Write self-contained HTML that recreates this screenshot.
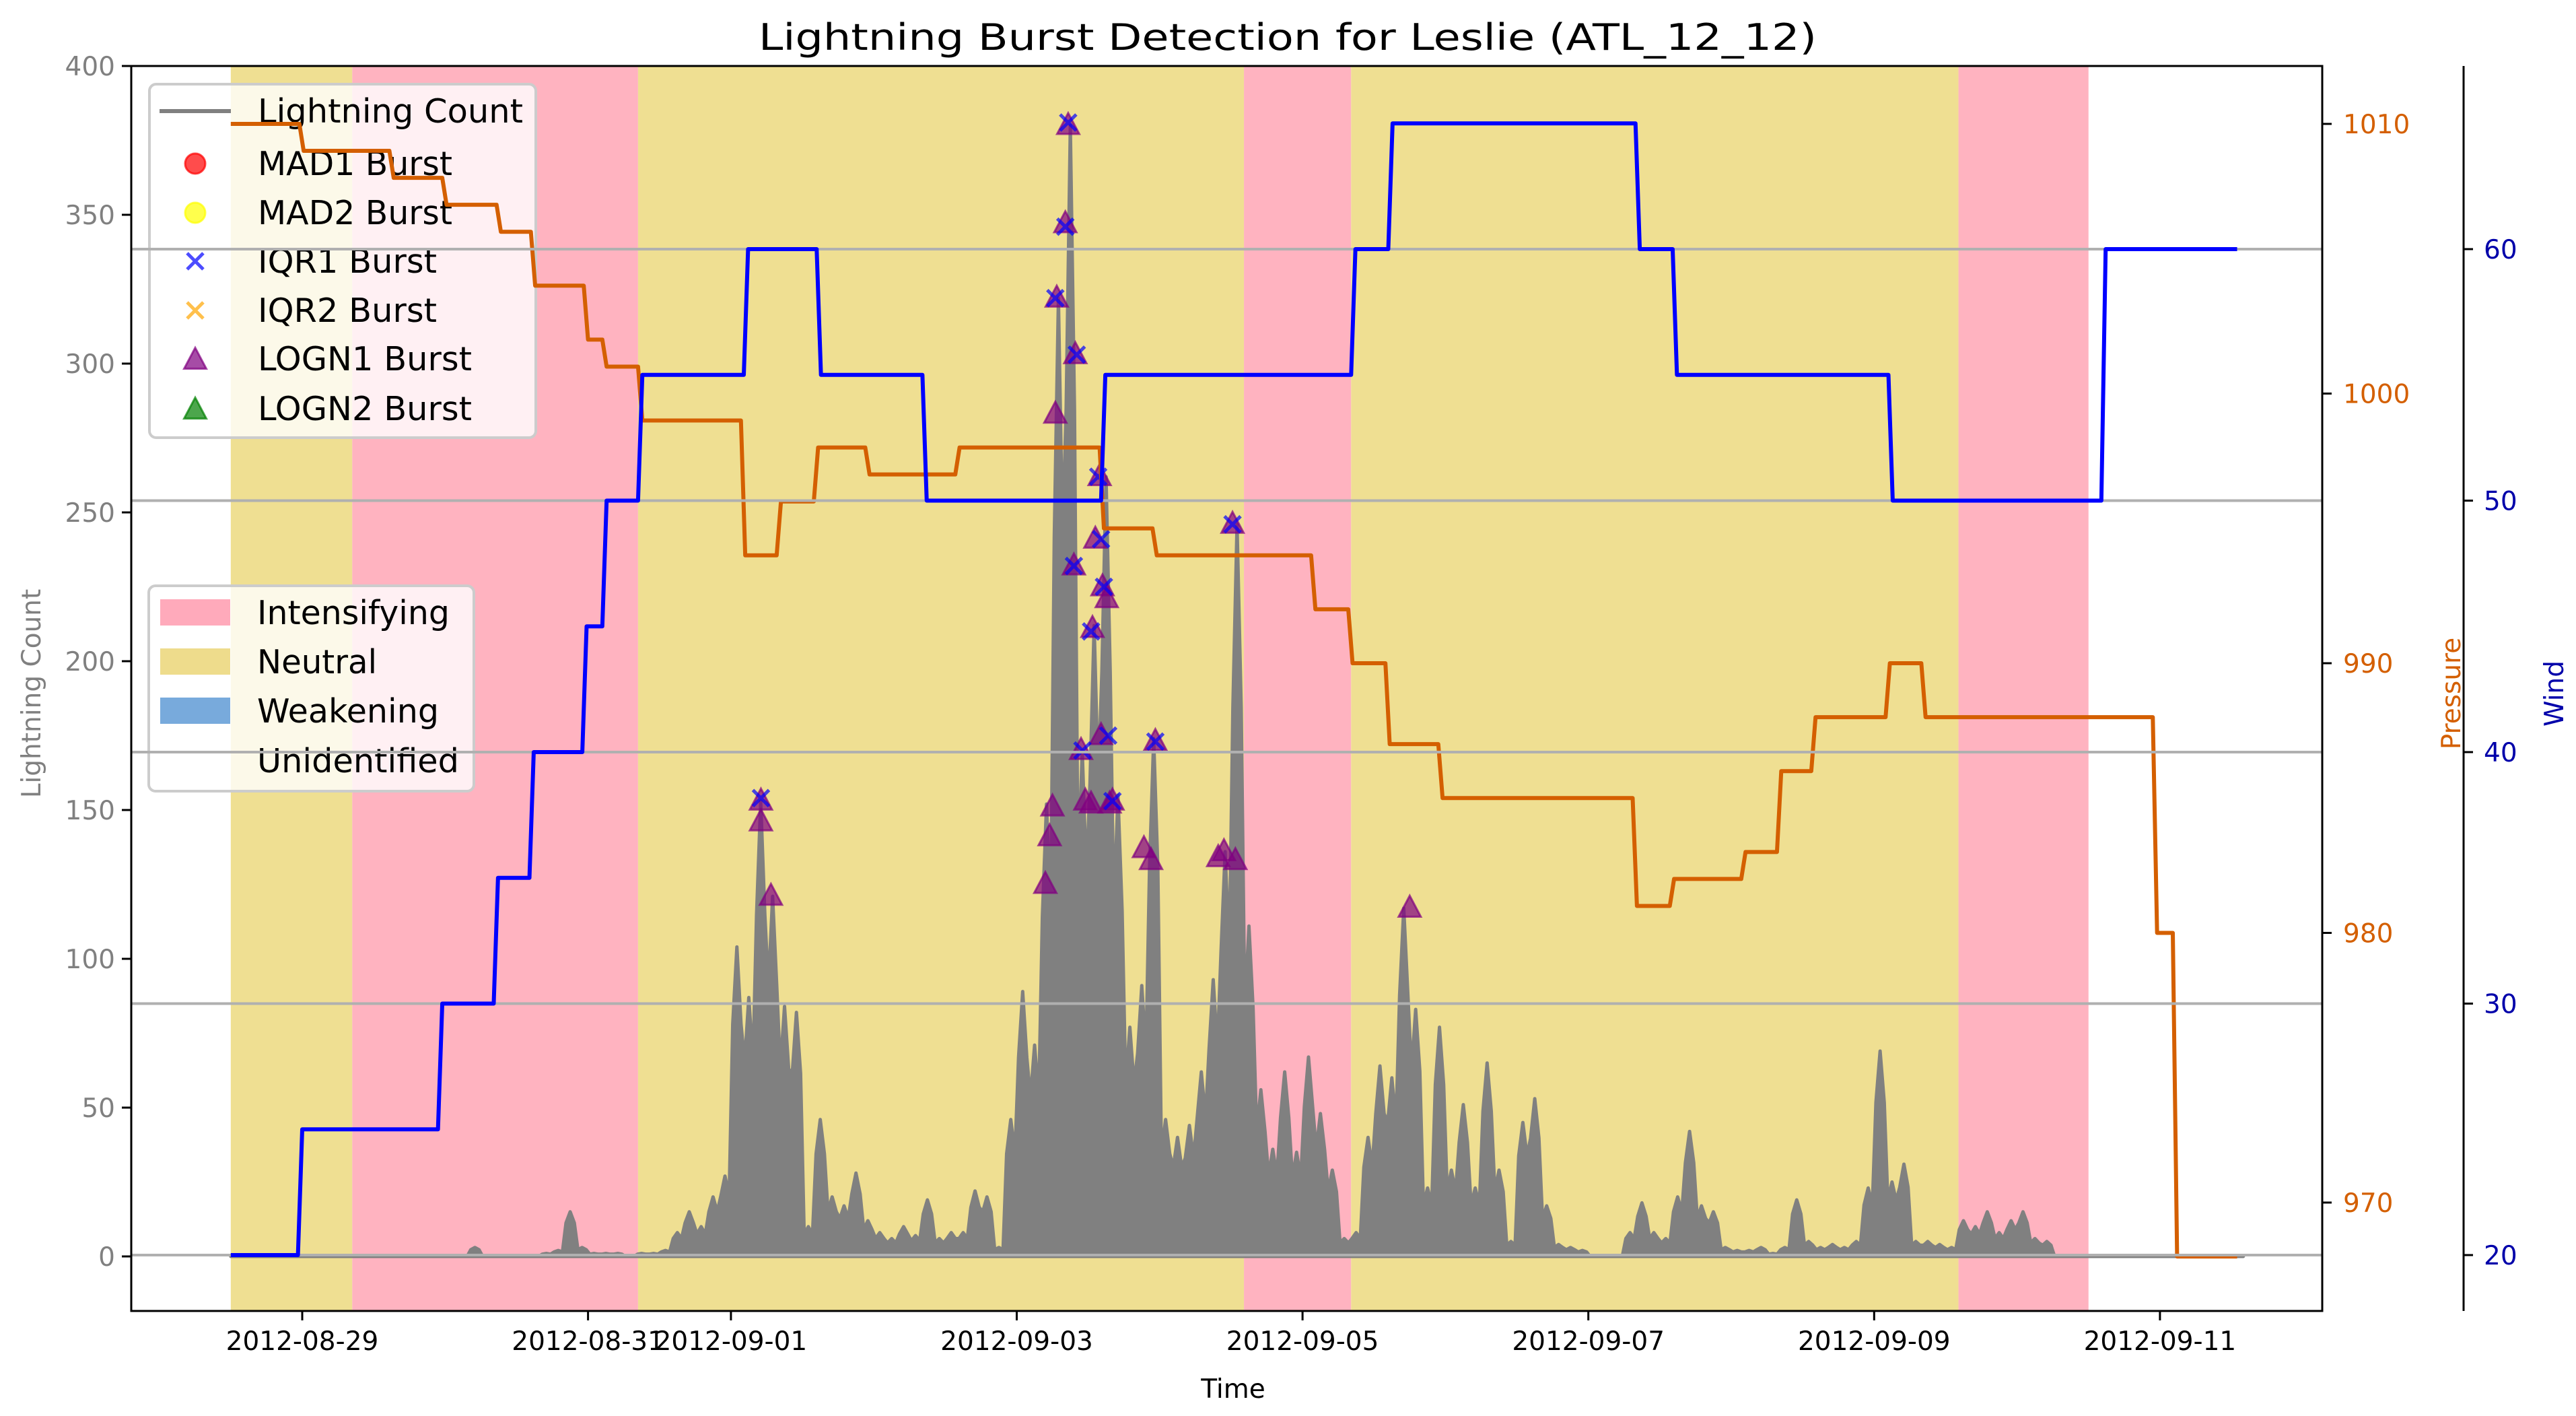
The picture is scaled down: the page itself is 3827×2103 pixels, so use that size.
<!DOCTYPE html>
<html><head><meta charset="utf-8"><style>
html,body{margin:0;padding:0;background:#fff;}
svg{display:block;font-family:"DejaVu Sans","Liberation Sans",sans-serif;}
</style></head><body>
<svg id="chart" width="3827" height="2103" viewBox="0 0 3827 2103" xmlns="http://www.w3.org/2000/svg">
<rect width="3827" height="2103" fill="#fff"/>
<g id="regions"></g>
<g id="light"></g>
<g id="marks"></g>
<g id="leg1"></g>
<g id="leg2"></g>
<g id="pres"></g>
<g id="wgrid"></g>
<g id="wind"></g>
<g id="axes"></g>
<text x="1913" y="74" font-size="54" text-anchor="middle" textLength="1572" lengthAdjust="spacingAndGlyphs">Lightning Burst Detection for Leslie (ATL_12_12)</text>
<text x="1832" y="2076" font-size="39" text-anchor="middle">Time</text>
<text x="0" y="0" font-size="39" fill="#808080" text-anchor="middle" transform="translate(60,1030) rotate(-90)">Lightning Count</text>
<text x="0" y="0" font-size="39" fill="#d45f00" text-anchor="middle" transform="translate(3655,1030) rotate(-90)">Pressure</text>
<text x="0" y="0" font-size="39" fill="#0000aa" text-anchor="middle" transform="translate(3808,1030) rotate(-90)">Wind</text>
</svg>
<script>
// ---- data (days since 2012-08-29 00:00) ----
const countStart = -0.5;      // first bin start
const countBinDays = 1/12;    // 2-hour bins
const counts = [
0,0,0,0,0,0,
0,0,0,0,0,0,0,0,0,0,0,0,
0,0,3,0,0,0,0,0,1,2,15,3,
1,1,1,0,1,1,2,8,15,10,20,27,
104,87,153,121,84,82,10,46,20,17,28,12,
8,6,10,7,19,6,8,8,22,20,3,46,
89,71,152,322,380,170,212,262,155,77,91,174,
46,40,44,62,93,136,246,111,56,36,62,35,
67,48,29,6,8,40,64,60,117,83,23,77,
29,51,23,65,29,5,45,53,17,4,3,2,
0,0,0,8,18,8,6,20,42,17,15,3,
2,2,3,1,3,19,5,3,4,3,5,23,
69,25,31,5,5,4,3,12,10,15,8,12,
15,6,5,0,0,0,0,0,0,0,0,0,
0,0,0,0,0,0,0];
const pressTimes = [-0.5,-0.02,0.61,0.98,1.36,1.6,1.97,2.1,2.35,3.07,3.32,3.58,3.94,4.57,5.58,5.95,7.06,7.32,7.58,7.95,9.31,9.57,10.07,10.32,10.56,11.08,11.33,12.95,13.09];
const pressVals  = [1010,1009,1008,1007,1006,1004,1002,1001,999,994,996,998,997,998,995,994,992,990,987,985,981,982,983,986,988,990,988,980,968];
const windTimes = [-0.5,-0.03,0.95,1.34,1.59,1.96,2.1,2.35,3.09,3.6,4.34,5.59,7.34,7.6,9.33,9.59,11.1,12.59];
const windVals  = [20,25,30,35,40,45,50,55,60,55,50,55,60,65,60,55,50,60];
const seriesEnd = 13.54;
const regionStarts = [-0.5,0.35,2.35,6.59,7.34,11.59];
const regionEnds   = [0.35,2.35,6.59,7.34,11.59,12.5];
const regionTypes  = ["Neutral","Intensifying","Neutral","Intensifying","Neutral","Intensifying"];
const logn1Times = [3.21,3.21,3.28,5.20,5.23,5.25,5.27,5.28,5.34,5.36,5.40,5.41,5.45,5.48,5.52,5.53,5.55,5.58,5.59,5.60,5.63,5.65,5.67,5.89,5.94,5.97,6.41,6.45,6.51,6.53,7.75];
const logn1Vals  = [146,153,121,125,141,151,283,322,347,380,232,303,170,153,152,211,241,262,175,225,221,152,153,137,133,173,134,136,246,133,117];
const iqr1Times = [3.21,5.27,5.34,5.36,5.40,5.42,5.46,5.52,5.57,5.59,5.61,5.64,5.67,5.97,6.51];
const iqr1Vals  = [154,322,346,381,232,303,170,210,262,241,225,175,153,173,246];
const xTickDays = [0,2,3,5,7,9,11,13];
const xTickLabels = ["2012-08-29","2012-08-31","2012-09-01","2012-09-03","2012-09-05","2012-09-07","2012-09-09","2012-09-11"];
const leftTicks = [0,50,100,150,200,250,300,350,400];
const pressTicks = [970,980,990,1000,1010];
const windTicks = [20,30,40,50,60];

// ---- scales ----
const PL=195, PR=3450, PT=98, PB=1947;
const X = d => 449 + 212.3*d;
const YL = v => 1866 - 4.42*v;
const YP = p => 1786 - (p-970)*40.05;
const YW = w => 1864 - (w-20)*37.35;
const NS="http://www.w3.org/2000/svg";
function mk(tag, attrs, parent){const e=document.createElementNS(NS,tag);for(const k in attrs)e.setAttribute(k,attrs[k]);parent.appendChild(e);return e;}
const colors={Intensifying:"#ffb3c0",Neutral:"#efdf92",Weakening:"#78aadc"};

// regions
const gR=document.getElementById('regions');
regionStarts.forEach((s,i)=>{
  const r=mk('rect',{x:X(s),y:PT,width:X(regionEnds[i])-X(s),height:PB-PT,fill:colors[regionTypes[i]]},gR);
  
  
});

// lightning: spiky line through bin centres, filled to baseline
const gL=document.getElementById('light');
let d='M'+X(countStart)+','+YL(0);
counts.forEach((c,i)=>{
  const t0=countStart+i*countBinDays, tm=t0+countBinDays/2;
  d+=' L'+X(t0+countBinDays*0.15)+','+YL(c*0.75)+' L'+X(tm)+','+YL(c)+' L'+X(t0+countBinDays*0.85)+','+YL(c*0.75);
});
d+=' L'+X(countStart+counts.length*countBinDays)+','+YL(0)+' Z';
const lp=mk('path',{d:d,fill:'#808080',stroke:'#808080','stroke-width':5,'stroke-linejoin':'round'},gL);



// markers
const gM=document.getElementById('marks');
function tri(cx,cy,s,fill,stroke,parent){return mk('path',{d:`M${cx},${cy-s*0.62} L${cx+s*0.55},${cy+s*0.42} L${cx-s*0.55},${cy+s*0.42} Z`,fill:fill,'fill-opacity':0.7,stroke:stroke,'stroke-opacity':0.7,'stroke-width':3},parent);}
function cross(cx,cy,s,col,parent){return mk('path',{d:`M${cx-s/2},${cy-s/2} L${cx+s/2},${cy+s/2} M${cx+s/2},${cy-s/2} L${cx-s/2},${cy+s/2}`,stroke:col,'stroke-opacity':0.7,'stroke-width':5,fill:'none'},parent);}
logn1Times.forEach((t,i)=>{
  const m=tri(X(t),YL(logn1Vals[i]),30,'#800080','#800080',gM);
  
  
});
iqr1Times.forEach((t,i)=>{
  const m=cross(X(t),YL(iqr1Vals[i]),24,'#0000ff',gM);
  
  
});

// legend 1
const g1=document.getElementById('leg1');
const f1=mk('rect',{x:222,y:125,width:574,height:525,rx:10,fill:'#fff','fill-opacity':0.8,stroke:'#cccccc','stroke-width':4},g1);


const l1Labels=["Lightning Count","MAD1 Burst","MAD2 Burst","IQR1 Burst","IQR2 Burst","LOGN1 Burst","LOGN2 Burst"];
const l1Widths=[394,289,289,266,266,318,318];
const rows1=[165,243,316,388,461,533,607];
l1Labels.forEach((lab,i)=>{
  const y=rows1[i];
  let m;
  if(i===0) m=mk('line',{x1:237,y1:y,x2:343,y2:y,stroke:'#808080','stroke-width':6},g1);
  else if(i<3) m=mk('ellipse',{cx:290,cy:y,rx:15,ry:15,fill:i===1?'#ff0000':'#ffff00','fill-opacity':0.7,stroke:i===1?'#ff0000':'#ffff00','stroke-opacity':0.7,'stroke-width':3},g1);
  else if(i<5) m=cross(290,y,24,i===3?'#0000ff':'#ffa500',g1);
  else m=tri(290,y+2,30,i===5?'#800080':'#008000',i===5?'#800080':'#008000',g1);
  
  
  const t=mk('text',{x:383,y:y+17,'font-size':49,textLength:l1Widths[i],lengthAdjust:'spacingAndGlyphs'},g1);
  t.textContent=lab;
  
  
});

// legend 2
const g2=document.getElementById('leg2');
const f2=mk('rect',{x:221,y:870,width:483,height:305,rx:10,fill:'#fff','fill-opacity':0.8,stroke:'#cccccc','stroke-width':4},g2);


const l2Labels=["Intensifying","Neutral","Weakening","Unidentified"];
const l2Cols=["#ffaabb","#eedc8c","#78aadc","#ffffff"];
const l2Widths=[286,178,270,300];
const rows2=[910,983,1056,1130];
l2Labels.forEach((lab,i)=>{
  const y=rows2[i];
  const s=mk('rect',{x:238,y:y-20,width:104,height:39,fill:l2Cols[i]},g2);
  
  
  const t=mk('text',{x:382,y:y+17,'font-size':49,textLength:l2Widths[i],lengthAdjust:'spacingAndGlyphs'},g2);
  t.textContent=lab;
  
  
});

// step path helper
function stepPath(ts,vs,end,Y){let p='M'+X(ts[0])+','+Y(vs[0]);for(let i=1;i<ts.length;i++){p+=' L'+X(ts[i])+','+Y(vs[i-1])+' L'+X(ts[i]+0.03)+','+Y(vs[i]);}p+=' L'+X(end)+','+Y(vs[vs.length-1]);return p;}

// pressure
const gP=document.getElementById('pres');
const pp=mk('path',{d:stepPath(pressTimes,pressVals,seriesEnd,YP),fill:'none',stroke:'#d45f00','stroke-width':6,'stroke-linejoin':'round'},gP);



// wind grid
const gG=document.getElementById('wgrid');
windTicks.forEach(w=>{
  const l=mk('line',{x1:PL,y1:YW(w),x2:PR,y2:YW(w),stroke:'#b0b0b0','stroke-width':4},gG);
  
  
});
// wind
const gW=document.getElementById('wind');
const wp=mk('path',{d:stepPath(windTimes,windVals,seriesEnd,YW),fill:'none',stroke:'#0000ff','stroke-width':6,'stroke-linejoin':'round'},gW);



// axes
const gA=document.getElementById('axes');
const fr=mk('rect',{x:PL,y:PT,width:PR-PL,height:PB-PT,fill:'none',stroke:'#000','stroke-width':3},gA);


const ws=mk('line',{x1:3660,y1:PT,x2:3660,y2:PB,stroke:'#000','stroke-width':3},gA);


xTickDays.forEach((dd,i)=>{
  const tk=mk('line',{x1:X(dd),y1:PB,x2:X(dd),y2:PB+14,stroke:'#000','stroke-width':3},gA);
  
  
  const t=mk('text',{x:X(dd),y:PB+58,'font-size':39,'text-anchor':'middle'},gA);
  t.textContent=xTickLabels[i];
  
  
});
leftTicks.forEach(v=>{
  const tk=mk('line',{x1:PL-14,y1:YL(v),x2:PL,y2:YL(v),stroke:'#000','stroke-width':3},gA);
  
  
  const t=mk('text',{x:PL-24,y:YL(v)+14,'font-size':39,'text-anchor':'end',fill:'#808080'},gA);
  t.textContent=v;
  
  
});
pressTicks.forEach(v=>{
  const tk=mk('line',{x1:PR,y1:YP(v),x2:PR+14,y2:YP(v),stroke:'#000','stroke-width':3},gA);
  
  
  const t=mk('text',{x:PR+31,y:YP(v)+14,'font-size':39,fill:'#d45f00'},gA);
  t.textContent=v;
  
  
});
windTicks.forEach(v=>{
  const tk=mk('line',{x1:3660,y1:YW(v),x2:3674,y2:YW(v),stroke:'#000','stroke-width':3},gA);
  
  
  const t=mk('text',{x:3690,y:YW(v)+14,'font-size':39,fill:'#0000aa'},gA);
  t.textContent=v;
  
  
});
</script>
</body></html>
